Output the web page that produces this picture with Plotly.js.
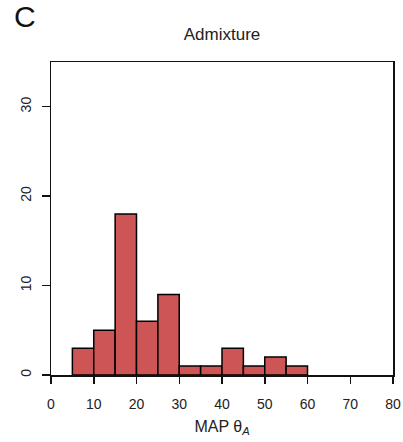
<!DOCTYPE html>
<html>
<head>
<meta charset="utf-8">
<script src="https://cdn.plot.ly/plotly-3.0.1.min.js"></script>
<style>html,body{margin:0;padding:0;background:#fff;}#chart{width:403px;height:442px;}</style>
</head>
<body>
<div id="chart"></div>
<script>
// Histogram bins (left edges, width 5) and counts
var binStarts = [5, 10, 15, 20, 25, 30, 35, 40, 45, 50, 55];
var counts = [3, 5, 18, 6, 9, 1, 1, 3, 1, 2, 1];
var binWidth = 5;
var xTicks = [0, 10, 20, 30, 40, 50, 60, 70, 80];
var yTicks = [0, 10, 20, 30];

var trace = {
  type: 'bar',
  x: binStarts,
  y: counts,
  width: binStarts.map(function(){ return binWidth; }),
  offset: 0,
  marker: {color: '#CD5555', line: {color: '#000', width: 1.5}},
  hoverinfo: 'x+y'
};

var fam = 'Liberation Sans, Arial, sans-serif';

var layout = {
  width: 403, height: 442,
  margin: {l: 51, r: 10, t: 62, b: 67},
  paper_bgcolor: '#fff', plot_bgcolor: '#fff',
  showlegend: false,
  bargap: 0,
  font: {family: fam, color: '#222', size: 14},
  title: {text: 'Admixture', font: {size: 17, color: '#222'}, x: 0.551, xanchor: 'center', y: 0.922, yanchor: 'middle', yref: 'container', xref: 'container'},
  xaxis: {
    range: [0, 80], tickvals: xTicks, ticktext: xTicks.map(String),
    showgrid: false, zeroline: false, showline: true, mirror: true,
    linecolor: '#111', linewidth: 1.5,
    ticks: 'outside', ticklen: 7, tickwidth: 1.5, tickcolor: '#111',
    ticklabelstandoff: 9,
    tickfont: {size: 14, color: '#222'},
    title: {text: 'MAP θ<sub><i>A</i></sub>', font: {size: 16, color: '#222'}, standoff: 9}
  },
  yaxis: {
    range: [0, 35], tickvals: yTicks, ticktext: yTicks.map(String),
    showgrid: false, zeroline: false, showline: true, mirror: true,
    linecolor: '#111', linewidth: 1.5,
    ticks: 'outside', ticklen: 8, tickwidth: 1.5, tickcolor: '#111',
    tickangle: -90,
    ticklabelstandoff: 5,
    tickfont: {size: 14, color: '#222'}
  },
  annotations: [{
    text: 'C', xref: 'paper', yref: 'paper', x: -0.115, y: 1.145,
    xanchor: 'left', yanchor: 'middle', showarrow: false,
    font: {size: 30, color: '#111'}
  }]
};

Plotly.newPlot('chart', [trace], layout, {displayModeBar: false, staticPlot: true});
</script>
</body>
</html>
